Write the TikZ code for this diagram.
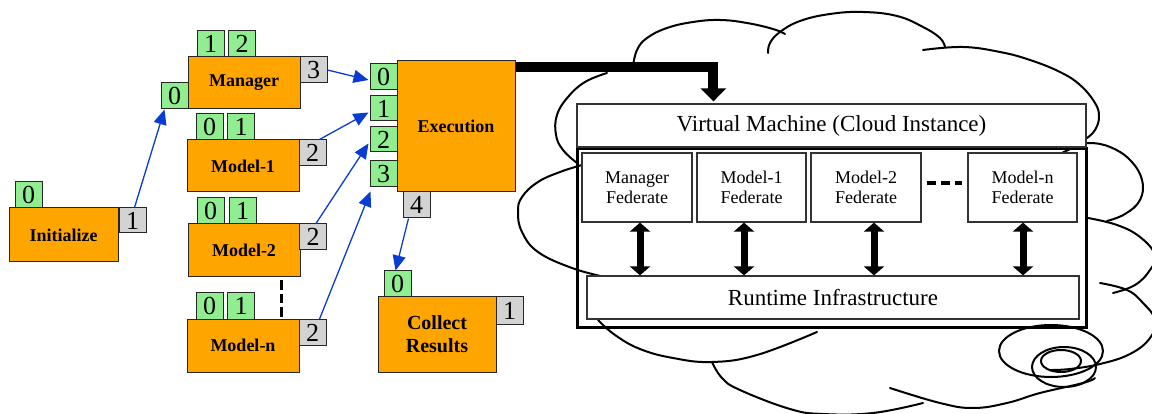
\documentclass[tikz,border=0pt]{standalone}
\usepackage{fontspec}
\setmainfont{Liberation Serif}
\usetikzlibrary{arrows.meta,calc}
\definecolor{boxorange}{HTML}{FFA500}
\definecolor{portgreen}{HTML}{90EE90}
\definecolor{portgray}{HTML}{D3D3D3}
\definecolor{flowblue}{HTML}{0A3CD2}
\begin{document}
\begin{tikzpicture}[x=1pt,y=-1pt,
  box/.style={draw=black!85, line width=1pt, inner sep=0pt, align=center},
  task/.style={box, fill=boxorange, font=\bfseries\fontsize{18}{20}\selectfont, minimum width=112pt, minimum height=52pt},
  inport/.style={box, fill=portgreen, font=\fontsize{26}{26}\selectfont, minimum width=27pt, minimum height=26pt},
  outport/.style={inport, fill=portgray},
  flow/.style={flowblue, line width=1.3pt, -{Triangle[length=15pt,width=13pt]}},
  bigflow/.style={black, line width=10pt, -{Triangle[length=13pt,width=25pt]}},
  fed/.style={draw=black!80, line width=1.2pt, fill=white, inner sep=0pt, align=center, minimum width=110pt, minimum height=69pt, font=\fontsize{18}{20}\selectfont},
  cloudline/.style={line width=2pt, line cap=round},
  biarrow/.style={line width=7pt, {Triangle[length=9pt,width=20pt]}-{Triangle[length=9pt,width=20pt]}},
  gapdash/.style={line width=3pt, dash pattern=on 9.5pt off 4pt},
  fedgap/.style={line width=4pt, dash pattern=on 9pt off 5pt}
]
\useasboundingbox (0,0) rectangle (1152,414);

% ---------- cloud ----------
\begin{scope}[cloudline]
\draw plot[smooth, tension=0.7] coordinates {(633,66) (637,50) (647,38) (667,28) (693,22) (720,20) (747,23) (773,29) (785,34)};
\draw plot[smooth, tension=0.7] coordinates {(768,53) (770,43) (780,32) (800,21) (830,14) (863,12) (897,16) (923,27) (940,38) (945,47)};
\draw plot[smooth, tension=0.7] coordinates {(923,50) (963,47) (1000,52) (1030,60) (1060,72) (1080,85) (1095,103) (1099,117) (1095,130) (1087,138)};
\draw plot[smooth, tension=0.7] coordinates {(1062,153) (1075,147) (1089,143) (1110,147) (1130,160) (1142,180) (1140,200) (1125,214) (1107,221)};
\draw plot[smooth, tension=0.7] coordinates {(1088,218) (1117,225) (1140,237) (1155,255) (1150,270) (1135,285) (1113,293)};
\draw plot[smooth, tension=0.7] coordinates {(1100,283) (1127,290) (1143,303) (1155,320) (1150,338) (1130,354) (1100,364) (1070,369) (1050,370)};
\draw plot[smooth, tension=0.7] coordinates {(607,73) (585,82) (568,97) (557,115) (556,135) (563,150) (577,163)};
\draw plot[smooth, tension=0.7] coordinates {(582,165) (560,172) (538,182) (522,197) (518,212) (522,232) (538,252) (572,268) (605,277)};
\draw plot[smooth, tension=0.7] coordinates {(598,320) (615,335) (640,349) (673,358) (712,362) (757,355) (817,332)};
\draw plot[smooth, tension=0.7] coordinates {(712,362) (722,378) (740,390) (790,409) (823,414) (873,413) (923,403)};
\draw plot[smooth, tension=0.7] coordinates {(890,388) (940,403) (973,408) (1007,403) (1040,393) (1083,383) (1095,378)};
\draw (1051,351) ellipse [x radius=52pt, y radius=26pt];
\draw (1064,367) ellipse [x radius=32pt, y radius=20pt];
\draw (1061,361) ellipse [x radius=20pt, y radius=11pt];
\end{scope}

% ---------- left workflow ----------
\node[task] (init) at (63.5,235) [minimum width=109pt, minimum height=54pt] {Initialize};
\node[inport] (ip0) at (28.5,195) {0};
\node[outport] (ip1) at (132.5,220.5) [minimum height=25pt] {1};

\node[task] (mgr) at (244,83) {Manager};
\node[inport] (mp1) at (210.5,44) {1};
\node[inport] (mp2) at (242,44) {2};
\node[inport] (mp0) at (174.5,96) {0};
\node[outport] (mp3) at (313.5,70) {3};

\node[task] (m1) at (243,166) {Model-1};
\node[inport] (m1p0) at (209.5,127) {0};
\node[inport] (m1p1) at (241,127) {1};
\node[outport] (m1p2) at (312.5,153) {2};

\node[task] (m2) at (244,250.5) [minimum height=53pt] {Model-2};
\node[inport] (m2p0) at (210.5,211) {0};
\node[inport] (m2p1) at (242.5,211) {1};
\node[outport] (m2p2) at (313,237) {2};

\node[task] (mn) at (243,345.5) [minimum height=53pt] {Model-n};
\node[inport] (mnp0) at (209.5,306) {0};
\node[inport] (mnp1) at (241,306) {1};
\node[outport] (mnp2) at (312.5,332.5) {2};

\draw[gapdash] ($(m2.south east)+(-19,3)$) -- ($(mn.north east)+(-18,-2)$);

\node[task] (exec) at (456,126.5) [minimum width=118pt, minimum height=131pt] {Execution};
\node[inport] (ep0) at (383.5,77) {0};
\node[inport] (ep1) at (383.5,108.5) [minimum height=25pt] {1};
\node[inport] (ep2) at (383.5,139.5) [minimum height=25pt] {2};
\node[inport] (ep3) at (383.5,174) {3};
\node[outport] (ep4) at (416.5,205) {4};

\node[task] (col) at (437,334.5) [minimum width=118pt, minimum height=75pt, font=\bfseries\fontsize{20}{23}\selectfont] {Collect\\Results};
\node[inport] (cp0) at (397.5,284) {0};
\node[outport] (cp1) at (509.5,310.5) [minimum height=27pt] {1};

\draw[flow] ($(ip1.north west)+(16,0)$) -- ($(mp0.south west)+(4,0)$);
\draw[flow] (mp3.east) -- ($(ep0.west)+(-1,3)$);
\draw[flow] ($(m1p2.north west)+(21,0)$) -- ($(ep1.west)+(-1,4)$);
\draw[flow] ($(m2p2.north west)+(17,0)$) -- ($(ep2.west)+(-1,4)$);
\draw[flow] ($(mnp2.north west)+(21,0)$) -- ($(ep3.south west)+(1,4)$);
\draw[flow] ($(ep4.south west)+(6,0)$) -- ($(cp0.north west)+(12,0)$);

% ---------- cloud instance ----------
\node[draw, line width=3pt, minimum width=509pt, minimum height=178pt, inner sep=0pt] (host) at (831.5,238) {};
\node[fed, minimum width=509pt, minimum height=43pt, font=\fontsize{23}{23}\selectfont] (vm) at (831.5,125.5) {Virtual Machine (Cloud Instance)};
\node[fed] (mgrfed) at (637,187.5) {Manager\\Federate};
\node[fed, minimum width=109pt] (m1fed) at (751.5,187.5) {Model-1\\Federate};
\node[fed] (m2fed) at (866,187.5) {Model-2\\Federate};
\node[fed, minimum width=109pt] (mnfed) at (1022.5,187.5) {Model-n\\Federate};
\node[fed, minimum width=492pt, minimum height=43pt, font=\fontsize{23}{23}\selectfont] (rti) at (833,297.5) {Runtime Infrastructure};

\draw[fedgap] ($(m2fed.east)+(5,-4.5)$) -- ($(mnfed.west)+(-5,-4.5)$);

\coordinate (a1) at ($(mgrfed.south)+(3,0)$);
\coordinate (a2) at ($(m1fed.south)+(-7.5,0)$);
\coordinate (a3) at ($(m2fed.south)+(8,0)$);
\coordinate (a4) at ($(mnfed.south)+(0.5,0)$);
\draw[biarrow] (a1) -- (a1 |- rti.north);
\draw[biarrow] (a2) -- (a2 |- rti.north);
\draw[biarrow] (a3) -- (a3 |- rti.north);
\draw[biarrow] (a4) -- (a4 |- rti.north);

\draw[bigflow] ($(exec.north east)+(0,7)$) -| ($(vm.north west)+(137,-2)$);
\end{tikzpicture}
\end{document}
